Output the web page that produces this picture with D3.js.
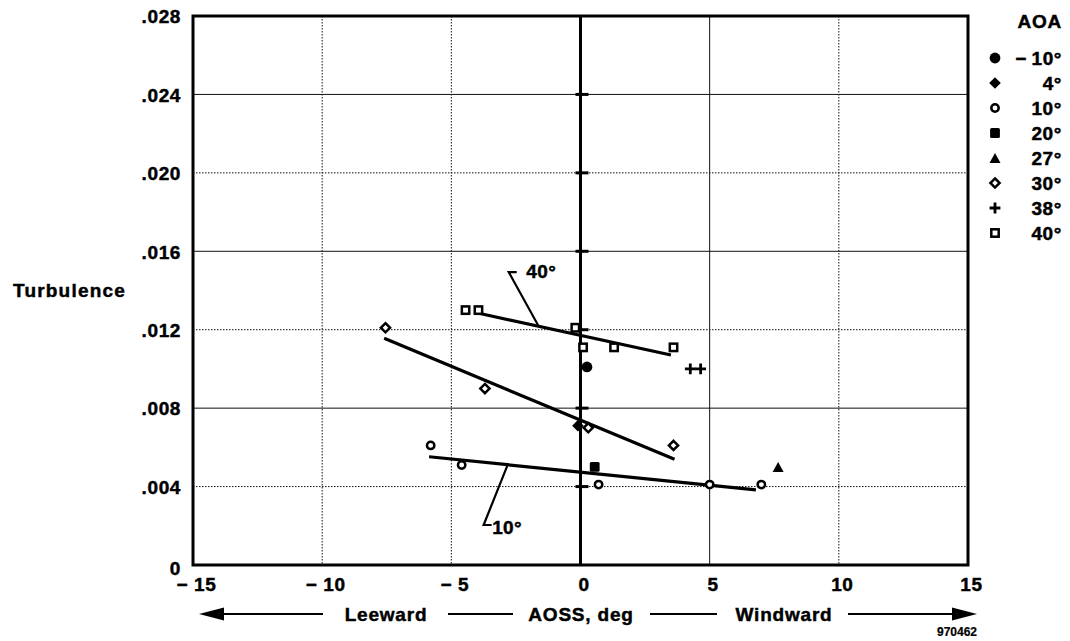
<!DOCTYPE html>
<html>
<head>
<meta charset="utf-8">
<script src="https://cdn.jsdelivr.net/npm/d3@7"></script>
<style>
  html, body { margin: 0; padding: 0; background: #fff; }
  text { font-family: "Liberation Sans", Arial, Helvetica, sans-serif; font-weight: bold; fill: #000; stroke: #000; stroke-width: 0.45px; }
</style>
</head>
<body>
<svg id="chart" width="1070" height="641"></svg>
<script>
// ---- Data: turbulence vs. angle of sideslip (AOSS, deg), grouped by angle of attack (AOA) ----
const aoaLabels = ["\u2212\u200910\u00b0", "4\u00b0", "10\u00b0", "20\u00b0", "27\u00b0", "30\u00b0", "38\u00b0", "40\u00b0"];
const aoaSymbols = ["filledCircle", "filledDiamond", "openCircle", "filledSquare", "filledTriangle", "openDiamond", "plus", "openSquare"];

const aoaNeg10 = [[0.25, 0.0101]];
const aoa4     = [[-0.1, 0.0071]];
const aoa10    = [[-5.8, 0.0061], [-4.6, 0.0051], [0.7, 0.0041], [5.0, 0.0041], [7.0, 0.0041]];
const aoa20    = [[0.55, 0.0050]];
const aoa27    = [[7.65, 0.0050]];
const aoa30    = [[-7.55, 0.0121], [-3.7, 0.0090], [0.3, 0.0070], [3.6, 0.0061]];
const aoa38    = [[4.25, 0.0100], [4.65, 0.0100]];
const aoa40    = [[-4.45, 0.0130], [-3.95, 0.0130], [-0.2, 0.0121], [0.1, 0.0111], [1.3, 0.0111], [3.6, 0.0111]];

// Fitted trend lines (end points, AOSS and turbulence)
const fit10 = [[-5.86, 0.00552], [6.79, 0.00383]];
const fit30 = [[-7.6, 0.01156], [3.64, 0.00539]];
const fit40 = [[-3.98, 0.01285], [3.5, 0.01071]];

// Callouts: point on the fit line, elbow point, text anchor, label
const callout40 = { on: [-1.62, 0.01218], elbow: [-2.78, 0.01494], label: [-2.1, 0.01500], text: "40\u00b0" };
const callout10 = { on: [-2.82, 0.00511], elbow: [-3.75, 0.00204], label: [-3.42, 0.00195], text: "10\u00b0" };

const xTickValues = [-15, -10, -5, 0, 5, 10, 15];
const yTickValues = [0, 0.004, 0.008, 0.012, 0.016, 0.020, 0.024, 0.028];
const xGridValues = [-10, -5, 5, 10];
const yGridValues = [0.004, 0.008, 0.012, 0.016, 0.020, 0.024];
const solidGridY = [0.008, 0.016, 0.024];
const solidGridX = [5];

const seriesList = [aoaNeg10, aoa4, aoa10, aoa20, aoa27, aoa30, aoa38, aoa40];

// ---- Layout ----
const svg = d3.select("#chart");
const plotL = 193, plotR = 968, plotT = 16, plotB = 565;
const x = d3.scaleLinear().domain([-15, 15]).range([plotL, plotR]);
const y = d3.scaleLinear().domain([0, 0.028]).range([plotB, plotT]);
const FS = 19;

// ---- Grid ----
const grid = svg.append("g");
grid.selectAll("line.gy").data(yGridValues).join("line")
  .attr("x1", plotL).attr("x2", plotR)
  .attr("y1", d => y(d)).attr("y2", d => y(d))
  .attr("stroke", "#111").attr("stroke-width", 1)
  .attr("stroke-dasharray", d => solidGridY.includes(d) ? null : "1.5,1.5");
grid.selectAll("line.gx").data(xGridValues).join("line")
  .attr("y1", plotT).attr("y2", plotB)
  .attr("x1", d => x(d)).attr("x2", d => x(d))
  .attr("stroke", "#111").attr("stroke-width", 1)
  .attr("stroke-dasharray", d => solidGridX.includes(d) ? null : "1.5,1.5");

// Zero-sideslip axis with short ticks at each grid level
svg.append("line")
  .attr("x1", x(0)).attr("x2", x(0)).attr("y1", plotT).attr("y2", plotB)
  .attr("stroke", "#000").attr("stroke-width", 3);
svg.selectAll("line.zt").data(yGridValues).join("line")
  .attr("x1", x(0) - 5).attr("x2", x(0) + 8)
  .attr("y1", d => y(d)).attr("y2", d => y(d))
  .attr("stroke", "#000").attr("stroke-width", 3);

// Frame
svg.append("rect")
  .attr("x", plotL).attr("y", plotT)
  .attr("width", plotR - plotL).attr("height", plotB - plotT)
  .attr("fill", "none").attr("stroke", "#000").attr("stroke-width", 3);

// ---- Axes labels ----
const yAxis = d3.axisLeft(y).tickValues(yTickValues).tickSize(0).tickPadding(12)
  .tickFormat(d => d === 0 ? "0" : d3.format(".3f")(d).replace(/^0/, ""));
const gy = svg.append("g").attr("transform", `translate(${plotL},0)`).call(yAxis);
gy.select(".domain").remove();
gy.selectAll("text").attr("font-size", FS).attr("letter-spacing", 0.6)
  .attr("font-family", '"Liberation Sans", Arial, sans-serif').attr("font-weight", "bold")
  .attr("x", -12).attr("dy", d => d === 0 ? "0.5em" : "0.36em");

const xAxis = d3.axisBottom(x).tickValues(xTickValues).tickSize(0).tickPadding(13)
  .tickFormat(d => d < 0 ? "\u2212 " + Math.abs(d) : String(d));
const gx = svg.append("g").attr("transform", `translate(0,${plotB})`).call(xAxis);
gx.select(".domain").remove();
gx.selectAll("text").attr("font-size", FS).attr("letter-spacing", 0.6)
  .attr("font-family", '"Liberation Sans", Arial, sans-serif').attr("font-weight", "bold")
  .attr("dx", 3);

svg.append("text").attr("x", 13).attr("y", 290).attr("dy", "0.36em")
  .attr("font-size", FS).attr("letter-spacing", 1.2).text("Turbulence");

// Direction line under the x axis
const dirY = 614;
const dir = svg.append("g");
dir.append("line").attr("x1", 215).attr("x2", 323).attr("y1", dirY).attr("y2", dirY)
  .attr("stroke", "#000").attr("stroke-width", 2);
dir.append("path").attr("d", `M199,${dirY} L224,${dirY - 6.5} L224,${dirY + 6.5} Z`).attr("fill", "#000");
dir.append("line").attr("x1", 448).attr("x2", 513).attr("y1", dirY).attr("y2", dirY)
  .attr("stroke", "#000").attr("stroke-width", 2);
dir.append("line").attr("x1", 650).attr("x2", 717).attr("y1", dirY).attr("y2", dirY)
  .attr("stroke", "#000").attr("stroke-width", 2);
dir.append("line").attr("x1", 848).attr("x2", 958).attr("y1", dirY).attr("y2", dirY)
  .attr("stroke", "#000").attr("stroke-width", 2);
dir.append("path").attr("d", `M977,${dirY} L952,${dirY - 6.5} L952,${dirY + 6.5} Z`).attr("fill", "#000");
[["Leeward", 386], ["AOSS, deg", 581], ["Windward", 784]].forEach(([t, cx]) => {
  dir.append("text").attr("x", cx).attr("y", dirY).attr("dy", "0.36em")
    .attr("text-anchor", "middle").attr("font-size", FS).attr("letter-spacing", 0.8).text(t);
});
svg.append("text").attr("x", 977).attr("y", 632).attr("dy", "0.36em")
  .attr("text-anchor", "end").attr("font-size", 12).style("stroke-width", "0.2px").text("970462");

// ---- Fit lines ----
const line = d3.line().x(d => x(d[0])).y(d => y(d[1]));
[fit10, fit30, fit40].forEach(f => {
  svg.append("path").attr("d", line(f)).attr("fill", "none")
    .attr("stroke", "#000").attr("stroke-width", 3.2);
});

// Callouts
[callout40, callout10].forEach(c => {
  const ex = x(c.elbow[0]), ey = y(c.elbow[1]);
  svg.append("path")
    .attr("d", `M${x(c.on[0])},${y(c.on[1])} L${ex},${ey} L${ex + 8},${ey}`)
    .attr("fill", "none").attr("stroke", "#000").attr("stroke-width", 2.2);
  svg.append("text").attr("x", x(c.label[0])).attr("y", y(c.label[1])).attr("dy", "0.36em")
    .attr("font-size", FS).attr("letter-spacing", 0.4).text(c.text);
});

// ---- Symbols ----
function drawSymbol(g, type, cx, cy, k = 1) {
  switch (type) {
    case "filledCircle":
      g.append("circle").attr("cx", cx).attr("cy", cy).attr("r", 5.4 * k).attr("fill", "#000"); break;
    case "filledDiamond": {
      const h = 5.8 * k;
      g.append("path").attr("d", `M${cx},${cy - h} L${cx + h},${cy} L${cx},${cy + h} L${cx - h},${cy} Z`).attr("fill", "#000"); break;
    }
    case "openCircle":
      g.append("circle").attr("cx", cx).attr("cy", cy).attr("r", 3.7 * k)
        .attr("fill", "#fff").attr("stroke", "#000").attr("stroke-width", 2.5); break;
    case "filledSquare": {
      const s = 9.8 * k;
      g.append("rect").attr("x", cx - s / 2).attr("y", cy - s / 2).attr("width", s).attr("height", s)
        .attr("rx", 1.5).attr("fill", "#000"); break;
    }
    case "filledTriangle": {
      const w = 5.5 * k, h = 10 * k;
      g.append("path").attr("d", `M${cx},${cy - h / 2} L${cx + w},${cy + h / 2} L${cx - w},${cy + h / 2} Z`).attr("fill", "#000"); break;
    }
    case "openDiamond": {
      const h = 4.6 * k;
      g.append("path").attr("d", `M${cx},${cy - h} L${cx + h},${cy} L${cx},${cy + h} L${cx - h},${cy} Z`)
        .attr("fill", "#fff").attr("stroke", "#000").attr("stroke-width", 2.5); break;
    }
    case "plus": {
      const a = 5.4 * k;
      g.append("path").attr("d", `M${cx - a},${cy} L${cx + a},${cy} M${cx},${cy - a} L${cx},${cy + a}`)
        .attr("stroke", "#000").attr("stroke-width", 2.8); break;
    }
    case "openSquare": {
      const s = 7.4 * k;
      g.append("rect").attr("x", cx - s / 2).attr("y", cy - s / 2).attr("width", s).attr("height", s)
        .attr("fill", "#fff").attr("stroke", "#000").attr("stroke-width", 2.5); break;
    }
  }
}

const pts = svg.append("g");
seriesList.forEach((series, i) => {
  series.forEach(d => drawSymbol(pts, aoaSymbols[i], x(d[0]), y(d[1])));
});

// ---- Legend ----
const legend = svg.append("g");
legend.append("text").attr("x", 1062).attr("y", 21).attr("dy", "0.36em")
  .attr("text-anchor", "end").attr("font-size", FS).attr("letter-spacing", 0.8).text("AOA");
aoaLabels.forEach((lab, i) => {
  const ry = 58 + i * 25;
  drawSymbol(legend, aoaSymbols[i], 995, ry, 1);
  legend.append("text").attr("x", 1062).attr("y", ry).attr("dy", "0.36em")
    .attr("text-anchor", "end").attr("font-size", FS).attr("letter-spacing", 0.6).text(lab);
});
</script>
</body>
</html>
